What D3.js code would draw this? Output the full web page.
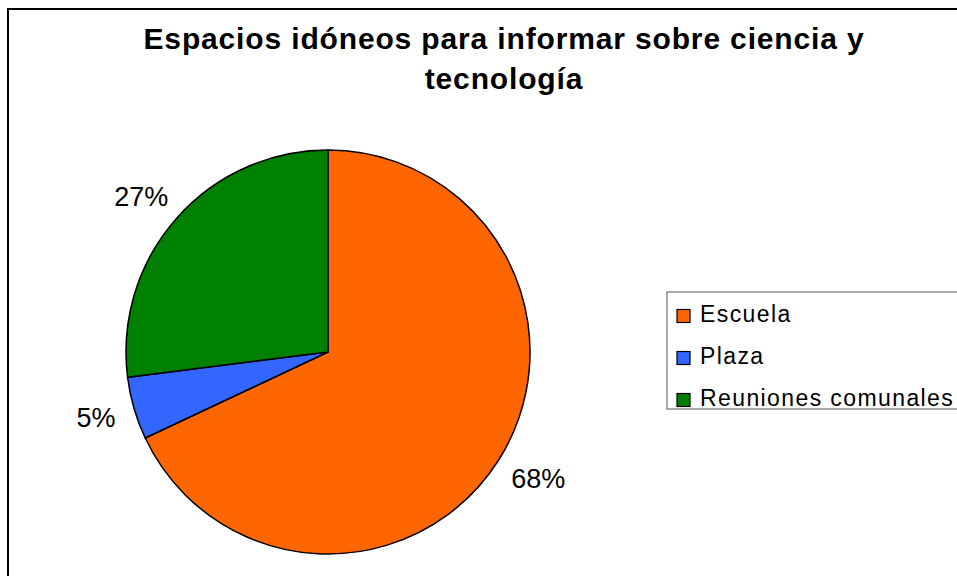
<!DOCTYPE html>
<html>
<head>
<meta charset="utf-8">
<script src="https://cdn.jsdelivr.net/npm/d3@7"></script>
<style>
  body { margin: 0; background: #fff; }
  svg { display: block; font-family: "Liberation Sans", Arial, sans-serif; }
</style>
</head>
<body>
<svg id="chart" width="957" height="576"></svg>
<script>
const titleLines = ["Espacios idóneos para informar sobre ciencia y", "tecnología"];
const categories = ["Escuela", "Plaza", "Reuniones comunales"];
const values = [68, 5, 27];
const colors = ["#FF6600", "#3366FF", "#008000"];

const svg = d3.select('#chart');

/** outer chart border (cut off at the right and bottom) */
svg.append('rect')
    .attr('x', 8).attr('y', 9)
    .attr('width', 1000).attr('height', 600)
    .attr('fill', '#fff')
    .attr('stroke', '#000')
    .attr('stroke-width', 2);

/** title */
svg.append('text')
    .attr('text-anchor', 'middle')
    .attr('font-weight', 'bold')
    .attr('font-size', 30)
    .attr('letter-spacing', 0.85)
    .selectAll('tspan')
    .data(titleLines)
    .enter()
    .append('tspan')
    .attr('x', 504)
    .attr('y', (d, i) => 48.5 + i * 40)
    .text(d => d);

/** pie */
const cx = 328, cy = 352, radius = 202;
const pie = d3.pie().sort(null).value(d => d);
const arcs = pie(values);
const arc = d3.arc().innerRadius(0).outerRadius(radius);
const labelArc = d3.arc().innerRadius(222).outerRadius(222);

const g = svg.append('g').attr('transform', `translate(${cx},${cy})`);

g.selectAll('path')
    .data(arcs)
    .enter()
    .append('path')
    .attr('d', arc)
    .attr('fill', (d, i) => colors[i])
    .attr('stroke', '#000')
    .attr('stroke-width', 1.5);

/** percentage labels, pushed outwards by half their box */
const total = d3.sum(values);
const labels = g.selectAll('text.pct')
    .data(arcs)
    .enter()
    .append('text')
    .attr('class', 'pct')
    .attr('text-anchor', 'middle')
    .attr('dy', '0.36em')
    .attr('font-size', 27)
    .text(d => Math.round(d.data / total * 100) + '%');

labels.attr('transform', function (d) {
    const bb = this.getBBox();
    const a = (d.startAngle + d.endAngle) / 2;
    const [x, y] = labelArc.centroid(d);
    return `translate(${x + Math.sin(a) * bb.width / 2},${y - Math.cos(a) * 13.5})`;
});

/** legend */
const legend = svg.append('g').attr('transform', 'translate(667,292)');
legend.append('rect')
    .attr('width', 400).attr('height', 117)
    .attr('fill', '#fff')
    .attr('stroke', '#555')
    .attr('stroke-width', 1);

const item = legend.selectAll('g.item')
    .data(categories)
    .enter()
    .append('g')
    .attr('class', 'item')
    .attr('transform', (d, i) => `translate(0,${22 + i * 42})`);

item.append('rect')
    .attr('x', 10).attr('y', -4.5)
    .attr('width', 13).attr('height', 13)
    .attr('fill', (d, i) => colors[i])
    .attr('stroke', '#000')
    .attr('stroke-width', 1.2);

item.append('text')
    .attr('x', 33)
    .attr('dy', '0.36em')
    .attr('font-size', 23)
    .attr('letter-spacing', 1.4)
    .text(d => d);
</script>
</body>
</html>
